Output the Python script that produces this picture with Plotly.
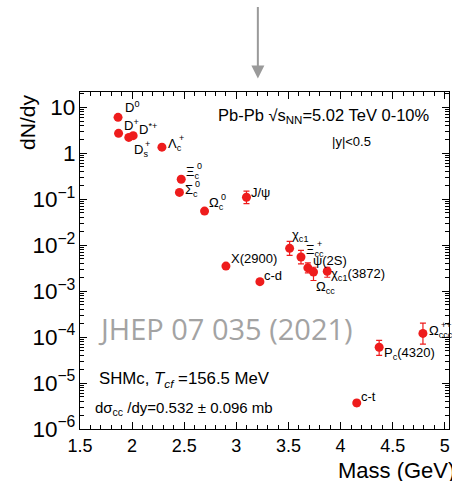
import plotly.graph_objects as go
import numpy as np

# ---- data ----
# labels split into base text, subscript and superscript
lab_base = ["D", "D", "D", "D", "Λ", "Ξ", "Σ", "Ω", "J/ψ", "X(2900)", "c-d", "χ",
            "Ξ", "ψ(2S)", "Ω", "χ", "Ω", "P", "c-t"]
lab_sub = ["", "", "", "s", "c", "c", "c", "c", "", "", "", "c1",
           "cc", "", "cc", "c1", "ccc", "c", ""]
lab_sup = ["0", "+", "*+", "+", "+", "0", "0", "0", "", "", "", "",
           "+", "", "", "", "++", "", ""]
lab_tail = ["", "", "", "", "", "", "", "", "", "", "", "",
            "", "", "", "(3872)", "", "(4320)", ""]
mass = [1.865, 1.870, 2.010, 1.968, 2.286, 2.471, 2.454, 2.695, 3.097, 2.90, 3.226,
        3.511, 3.62, 3.686, 3.74, 3.872, 4.79, 4.37, 4.155]
dndy = [6.0, 2.7, 2.4, 2.2, 1.35, 0.27, 0.14, 0.055, 0.11, 0.0035, 0.0016,
        0.0085, 0.0055, 0.0032, 0.0026, 0.0027, 1.2e-4, 6.0e-5, 3.7e-6]
err_hi = [0, 0, 0, 0, 0, 0, 0, 0, 0.04, 0, 0.0002,
          0.0035, 0.0022, 0.0009, 0.0007, 0.0006, 0.8e-4, 2.5e-5, 0.5e-6]
err_lo = [0, 0, 0, 0, 0, 0, 0, 0, 0.03, 0, 0.0002,
          0.0025, 0.0016, 0.0007, 0.0009, 0.0007, 0.5e-4, 2.0e-5, 0.5e-6]

# label offsets (pixels) relative to each point
lab_dx = [5, 3, 4, 3, 4, 3, 4, 2, 3, 3, 2, 0, 3, 3, 1, 2, 4, 3, 2]
lab_dy = [10, 8, 7, -13, 3, 7, 2, 8, 5, 8, 6, 13, 7, 7, -15, -3, 2, -6, 6]
# approximate glyph widths of base letters (px, 13px font) for stacking sup over sub
base_w = {"D": 9.4, "Λ": 8.7, "Ξ": 8.7, "Σ": 7.8, "Ω": 10.0}

xtick_vals = [1.5, 2, 2.5, 3, 3.5, 4, 4.5, 5]

RED = "#ee1c1c"
LBL = dict(size=13, color="black", family="Liberation Sans")
fig = go.Figure()
fig.add_trace(go.Scatter(
    x=mass, y=dndy, mode="markers",
    marker=dict(color=RED, size=9, line=dict(width=0)),
    error_y=dict(type="data", symmetric=False, array=err_hi, arrayminus=err_lo,
                 color=RED, thickness=1.2, width=3),
    showlegend=False, cliponaxis=False))

for b, sb, sp, tl, xm, yv, dx, dy in zip(lab_base, lab_sub, lab_sup, lab_tail,
                                         mass, dndy, lab_dx, lab_dy):
    ly = np.log10(yv)
    if sb and sp:
        # stacked sub/superscript
        fig.add_annotation(x=xm, y=ly, text=f"{b}<sub>{sb}</sub>{tl}", showarrow=False,
                           xanchor="left", yanchor="middle", xshift=dx, yshift=dy, font=LBL)
        fig.add_annotation(x=xm, y=ly, text=sp, showarrow=False,
                           xanchor="left", yanchor="middle",
                           xshift=dx + base_w.get(b, 9) + 2, yshift=dy + 6,
                           font=dict(size=9, color="black", family="Liberation Sans"))
    else:
        t = b
        if sb:
            t += f"<sub>{sb}</sub>"
        if sp:
            t += f"<sup>{sp}</sup>"
        t += tl
        fig.add_annotation(x=xm, y=ly, text=t, showarrow=False,
                           xanchor="left", yanchor="middle", xshift=dx, yshift=dy, font=LBL)

ann_font = dict(family="Liberation Sans", color="black")
fig.add_annotation(xref="paper", yref="paper", x=0.954, y=0.929, xanchor="right", yanchor="middle",
                   text="Pb-Pb √s<sub>NN</sub>=5.02 TeV 0-10%", showarrow=False,
                   font=dict(size=16.5, **ann_font))
fig.add_annotation(xref="paper", yref="paper", x=0.737, y=0.852, xanchor="center", yanchor="middle",
                   text="|y|<0.5", showarrow=False, font=dict(size=13, **ann_font))
fig.add_annotation(xref="paper", yref="paper", x=0.394, y=0.297, xanchor="center", yanchor="middle",
                   text="JHEP 07 035 (2021)", showarrow=False,
                   font=dict(size=29, family="Open Sans", color="#a3a3a3"))
fig.add_annotation(xref="paper", yref="paper", x=0.047, y=0.146, xanchor="left", yanchor="middle",
                   text="SHMc, <i>T<sub>cf</sub></i> =156.5 MeV", showarrow=False,
                   font=dict(size=16.8, **ann_font))
fig.add_annotation(xref="paper", yref="paper", x=0.035, y=0.062, xanchor="left", yanchor="middle",
                   text="dσ<sub>cc</sub> /dy=0.532 ± 0.096 mb", showarrow=False,
                   font=dict(size=15, **ann_font))
# axis titles
fig.add_annotation(xref="paper", yref="paper", x=-0.141, y=0.911, xanchor="center", yanchor="middle",
                   text="dN/dy", textangle=-90, showarrow=False, font=dict(size=21, **ann_font))
fig.add_annotation(xref="paper", yref="paper", x=0.694, y=-0.122, xanchor="left", yanchor="middle",
                   text="Mass (GeV)", showarrow=False, font=dict(size=22, **ann_font))
# top arrow
fig.add_annotation(xref="paper", yref="paper", x=0.482, y=1.04, ax=0, ay=-73, text="",
                   showarrow=True, arrowhead=2, arrowsize=1.3, arrowwidth=2, arrowcolor="#9a9a9a")

fig.update_layout(
    width=452, height=481, margin=dict(l=80, r=3, t=92, b=52),
    plot_bgcolor="white", paper_bgcolor="white",
    font=dict(family="Liberation Sans", color="black"),
    xaxis=dict(range=[1.5, 5.04], tickvals=xtick_vals, ticktext=[str(v) for v in xtick_vals],
               ticks="inside", ticklen=7, tickcolor="black", showline=True, linecolor="black",
               linewidth=1, mirror="ticks", showgrid=False, zeroline=False,
               tickfont=dict(size=18),
               minor=dict(dtick=0.1, tick0=1.5, ticks="inside", ticklen=4, tickcolor="black",
                          showgrid=False)),
    yaxis=dict(type="log", range=[-6, 1.33], tickmode="linear", tick0=0, dtick=1,
               exponentformat="power", ticks="inside", ticklen=7, tickcolor="black",
               showline=True, linecolor="black", linewidth=1, mirror="ticks",
               showgrid=False, zeroline=False, tickfont=dict(size=18),
               minor=dict(dtick="D1", ticks="inside", ticklen=4, tickcolor="black", showgrid=False)),
)
fig.write_html("out.html")
